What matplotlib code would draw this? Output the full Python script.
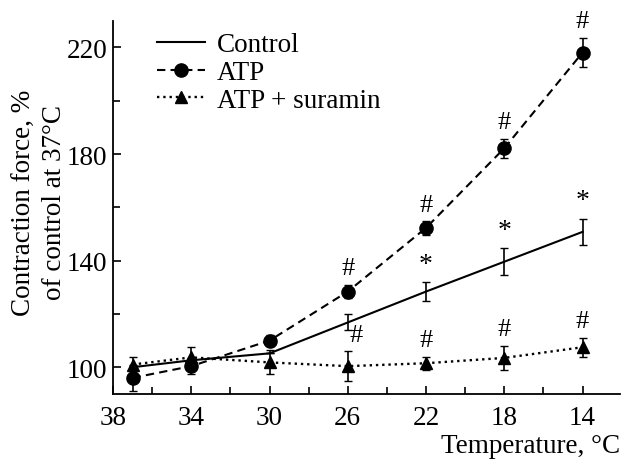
import numpy as np
import matplotlib
matplotlib.use('Agg')
from matplotlib import pyplot as plt
from matplotlib.ticker import MultipleLocator
from matplotlib.lines import Line2D

# data
temp = [37, 34, 30, 26, 22, 18, 14]

control = [100, 102.6, 105.2, 116.8, 128.4, 139.6, 150.8]
control_err = [0, 0, 0, 3, 3.5, 5, 5]

atp = [96, 100.4, 110, 128.4, 152.3, 182.2, 218.1]
atp_err = [5, 3, 2, 2.5, 2.5, 3.5, 5.5]

suramin = [101, 103.7, 101.8, 100.4, 101.5, 103.5, 107.5]
suramin_err = [3, 4, 4.5, 5.5, 2.5, 4.5, 3.5]

# significance marks
atp_marks = [26, 22, 18, 14]
suramin_marks = [26, 22, 18, 14]
control_marks = [22, 18, 14]

plt.rcParams['font.family'] = ['Liberation Serif', 'DejaVu Serif']
fs = 19.5

fig = plt.figure(figsize=(6.21, 4.64), dpi=100)
ax = fig.add_axes([0.182, 0.149, 0.816, 0.804])

styles = {
    'Control': dict(ls='-', lw=1.5, marker=None, ms=0),
    'ATP': dict(ls=(0, (4, 2.5)), lw=1.5, marker='o', ms=9.5),
    'ATP + suramin': dict(ls=':', lw=1.7, marker='^', ms=8),
}

ax.errorbar(temp, control, yerr=control_err, color='k', capsize=3, elinewidth=1.2,
            **styles['Control'])
ax.errorbar(temp, atp, yerr=atp_err, color='k', capsize=3, elinewidth=1.2,
            **styles['ATP'])
ax.errorbar(temp, suramin, yerr=suramin_err, color='k', capsize=3, elinewidth=1.2,
            **styles['ATP + suramin'])

for t in atp_marks:
    i = temp.index(t)
    ax.annotate('#', (t, atp[i] + atp_err[i]), xytext=(0, 4), textcoords='offset points',
                ha='center', va='bottom', fontsize=19)
for t in suramin_marks:
    i = temp.index(t)
    dx = 6 if t == 26 else 0
    ax.annotate('#', (t, suramin[i] + suramin_err[i]), xytext=(dx, 4), textcoords='offset points',
                ha='center', va='bottom', fontsize=19)
for t in control_marks:
    i = temp.index(t)
    ax.annotate('*', (t, control[i] + control_err[i]), xytext=(0, 4), textcoords='offset points',
                ha='center', va='bottom', fontsize=20)

ax.set_xlim(38, 12.1)
ax.set_ylim(90, 230)
ax.set_xticks([38, 34, 30, 26, 22, 18, 14])
ax.set_yticks([100, 140, 180, 220])
ax.xaxis.set_minor_locator(MultipleLocator(2))
ax.yaxis.set_minor_locator(MultipleLocator(20))
ax.tick_params(which='both', direction='in', labelsize=fs, width=1.2)
ax.tick_params(which='major', length=6)
ax.tick_params(which='minor', length=5)
ax.tick_params(axis='x', pad=8)
ax.tick_params(axis='y', pad=4)
ax.spines['top'].set_visible(False)
ax.spines['right'].set_visible(False)
for s in ['left', 'bottom']:
    ax.spines[s].set_linewidth(1.3)

ax.set_ylabel('Contraction force, %\nof control at 37°C', fontsize=fs,
              linespacing=1.3)
ax.yaxis.set_label_coords(-0.09, 0.515)
ax.set_xlabel('Temperature, °C', fontsize=fs)
ax.xaxis.set_label_coords(1.0, -0.105)
ax.xaxis.label.set_ha('right')

# legend handles without error bars
handles = [Line2D([], [], color='k', **styles[k]) for k in styles]
leg = ax.legend(handles, list(styles.keys()), loc='upper left',
                bbox_to_anchor=(0.066, 0.998), frameon=False,
                fontsize=fs, handlelength=1.75, handletextpad=0.45,
                labelspacing=0.1, borderaxespad=0)

plt.savefig('out.png', dpi=100)
